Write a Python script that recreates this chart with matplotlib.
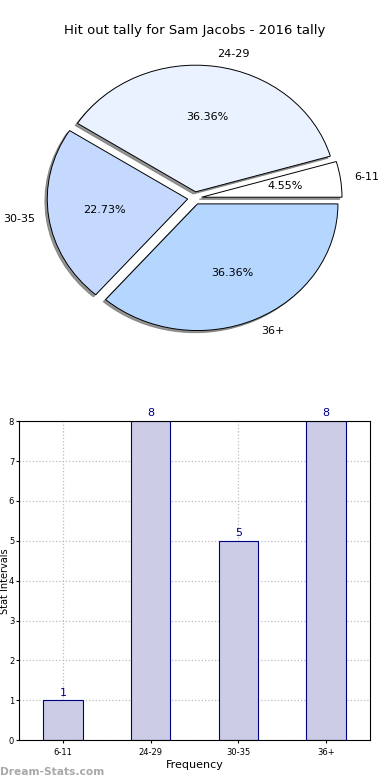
import matplotlib
matplotlib.use('Agg')
import matplotlib.pyplot as plt

labels = ['6-11', '24-29', '30-35', '36+']
counts = [1, 8, 5, 8]
pie_colors = ['#ffffff', '#ebf2ff', '#c5d9ff', '#b4d6ff']
explode = [0.05, 0.05, 0.05, 0.05]

fig = plt.figure(figsize=(3.9, 7.8), dpi=100)

# pie chart on top
ax1 = fig.add_axes([0.049, 0.543, 0.9, 0.406])
wedges, texts, autotexts = ax1.pie(counts, labels=labels, colors=pie_colors,
                                   explode=explode, autopct='%.2f%%',
                                   shadow={'ox': -0.012, 'oy': -0.012,
                                           'facecolor': '#707070', 'edgecolor': '#707070',
                                           'alpha': 0.75},
                                   startangle=0, labeldistance=1.1,
                                   wedgeprops={'edgecolor': 'black', 'linewidth': 0.7},
                                   textprops={'fontsize': 8})
ax1.set_aspect('auto')
ax1.set_xlim(-1.25, 1.25)
ax1.set_ylim(-1.25, 1.25)
ax1.set_title('Hit out tally for Sam Jacobs - 2016 tally', fontsize=9.5, pad=4)

# bar chart below
ax2 = fig.add_axes([0.049, 0.051, 0.9, 0.409])
x = range(len(labels))
bars = ax2.bar(x, counts, width=0.45, color='#ccccE6', edgecolor='navy', linewidth=0.8, zorder=2)
for i, v in enumerate(counts):
    ax2.text(i, v + 0.07, str(v), ha='center', va='bottom', color='navy', fontsize=8)
ax2.set_xticks(list(x))
ax2.set_xticklabels(labels, fontsize=6)
ax2.set_yticks(range(0, 9))
ax2.tick_params(axis='y', labelsize=6, pad=1.5)
ax2.tick_params(length=2)
ax2.set_xlim(-0.5, 3.5)
ax2.set_ylim(0, 8)
ax2.grid(True, linestyle=':', color='#bbbbbb', linewidth=0.9, zorder=0)
ax2.set_xlabel('Frequency', fontsize=8, labelpad=2)
ax2.set_ylabel('Stat Intervals', fontsize=7)
ax2.yaxis.set_label_coords(-0.026, 0.5)

fig.text(0.0, 0.006, 'Dream-Stats.com', color='#999999', fontsize=7.7, fontweight='bold', alpha=0.85)

fig.savefig('out.png', dpi=100)
